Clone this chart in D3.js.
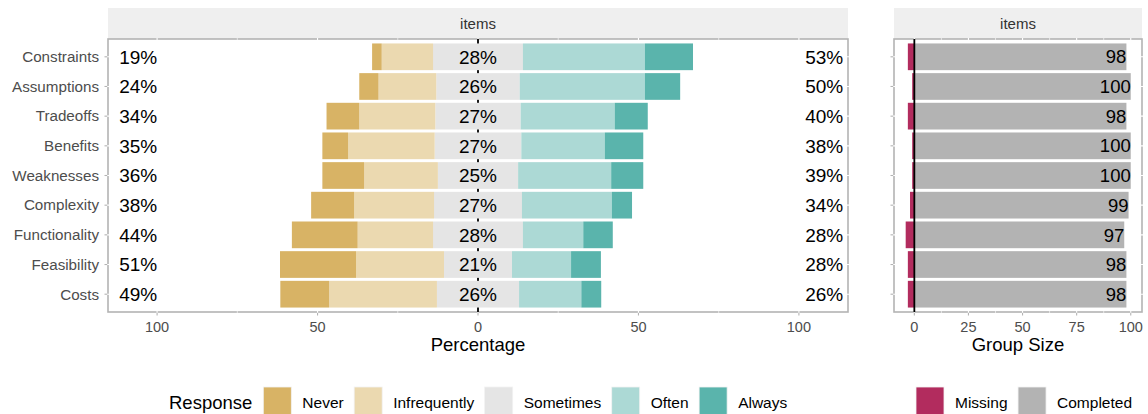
<!DOCTYPE html>
<html>
<head>
<meta charset="utf-8">
<script src="https://cdn.jsdelivr.net/npm/d3@7/dist/d3.min.js"></script>
<style>
  html, body { margin: 0; padding: 0; background: #fff; }
  svg { display: block; font-family: "Liberation Sans", Arial, Helvetica, sans-serif; }
</style>
</head>
<body>
<svg id="chart" width="1148" height="414"></svg>
<script>
// ---------- data ----------
const items = ["Constraints","Assumptions","Tradeoffs","Benefits","Weaknesses","Complexity","Functionality","Feasibility","Costs"];
const levels = ["Never","Infrequently","Sometimes","Often","Always"];
const never        = [3,  6,  10.2, 8,  13, 13.4, 20.5, 23.7, 15.2];
const infrequently = [16, 18, 23.7, 27, 23, 24.9, 23.5, 27.4, 33.6];
const sometimes    = [28, 26, 26.6, 27, 25, 27.4, 28,   21.2, 25.6];
const often        = [38, 39, 29.3, 26, 29, 28.0, 18.8, 18.4, 19.4];
const always       = [15, 11, 10.3, 12, 10, 6.3,  9.2,  9.3,  6.2];
const completed = [98, 100, 98, 100, 100, 99, 97, 98, 98];
const missing   = [3, 1, 3, 1, 1, 2, 4, 3, 3];
const pctTicks = [-100, -50, 0, 50, 100];
const pctTickLabels = ["100", "50", "0", "50", "100"];
const sizeTicks = [0, 25, 50, 75, 100];

const colors = {Never:"#d8b365", Infrequently:"#ebd9b0", Sometimes:"#e5e5e5", Often:"#acd9d5", Always:"#5ab4ac"};
const histColors = {Missing:"#b22c5e", Completed:"#b3b3b3"};

// ---------- layout ----------
const svg = d3.select("#chart");
const P = {top: 39, bottom: 312, stripTop: 8};
const L = {x0: 108, x1: 848};
const R = {x0: 894, x1: 1142};
const borderCol = "#b3b3b3";

const x = d3.scaleLinear().domain([-115.3, 115.3]).range([L.x0, L.x1]);
const xr = d3.scaleLinear().domain([-9.4, 105.2]).range([R.x0, R.x1]);
const y = d3.scalePoint().domain(items).range([P.top, P.bottom]).padding(0.6);
const bh = y.step() * 0.9;

// build stacked segments
const segs = [];
items.forEach((it, i) => {
  const v = {Never: never[i], Infrequently: infrequently[i], Sometimes: sometimes[i], Often: often[i], Always: always[i]};
  const h = v.Sometimes / 2;
  segs.push({item: it, lvl: "Sometimes", a: -h, b: h});
  segs.push({item: it, lvl: "Infrequently", a: -h - v.Infrequently, b: -h});
  segs.push({item: it, lvl: "Never", a: -h - v.Infrequently - v.Never, b: -h - v.Infrequently});
  segs.push({item: it, lvl: "Often", a: h, b: h + v.Often});
  segs.push({item: it, lvl: "Always", a: h + v.Often, b: h + v.Often + v.Always});
});

function strip(x0, x1) {
  svg.append("rect").attr("x", x0).attr("y", P.stripTop).attr("width", x1 - x0).attr("height", P.top - P.stripTop)
    .attr("fill", "#efefef");
  svg.append("text").attr("x", (x0 + x1) / 2).attr("y", (P.stripTop + P.top) / 2).attr("dy", "0.35em")
    .attr("text-anchor", "middle").attr("font-size", 15).attr("fill", "#333").text("items");
}
function panelFrame(x0, x1, scale, majors, minors) {
  svg.append("rect").attr("x", x0).attr("y", P.top).attr("width", x1 - x0).attr("height", P.bottom - P.top)
    .attr("fill", "none").attr("stroke", borderCol).attr("stroke-width", 1.6);
  const g = svg.append("g");
  // white grid lines crossing the border (as in reference), drawn beneath the bars
  minors.forEach(t => {
    g.append("line").attr("x1", scale(t)).attr("x2", scale(t)).attr("y1", P.top - 1).attr("y2", P.bottom + 1)
      .attr("stroke", "#fff").attr("stroke-width", 0.6);
  });
  majors.forEach(t => {
    g.append("line").attr("x1", scale(t)).attr("x2", scale(t)).attr("y1", P.top - 1).attr("y2", P.bottom + 1)
      .attr("stroke", "#fff").attr("stroke-width", 1.1);
  });
  items.forEach(it => {
    g.append("line").attr("x1", x0 - 1).attr("x2", x1 + 1).attr("y1", y(it)).attr("y2", y(it))
      .attr("stroke", "#fff").attr("stroke-width", 1.1);
  });
  // ticks
  items.forEach(it => {
    g.append("line").attr("x1", x0 - 3.5).attr("x2", x0 - 0.8).attr("y1", y(it)).attr("y2", y(it))
      .attr("stroke", borderCol).attr("stroke-width", 1.1);
  });
  majors.forEach(t => {
    g.append("line").attr("x1", scale(t)).attr("x2", scale(t)).attr("y1", P.bottom + 0.8).attr("y2", P.bottom + 3.5)
      .attr("stroke", borderCol).attr("stroke-width", 1.1);
  });
}

// ---------- left panel ----------
strip(L.x0, L.x1);
panelFrame(L.x0, L.x1, x, pctTicks, [-75, -25, 25, 75]);
// zero line behind bars
svg.append("line").attr("x1", x(0)).attr("x2", x(0)).attr("y1", P.top).attr("y2", P.bottom)
  .attr("stroke", "#000").attr("stroke-width", 1.8);

svg.append("g").selectAll("rect").data(segs).join("rect")
  .attr("x", d => x(d.a)).attr("width", d => x(d.b) - x(d.a))
  .attr("y", d => y(d.item) - bh / 2).attr("height", bh)
  .attr("fill", d => colors[d.lvl]);

// percentage labels
const fmt = v => Math.round(v) + "%";
const lbl = svg.append("g").attr("font-size", 19).attr("fill", "#000");
items.forEach((it, i) => {
  lbl.append("text").attr("x", x(-111.8)).attr("y", y(it)).attr("dy", "0.36em").attr("text-anchor", "start")
    .text(fmt(never[i] + infrequently[i]));
  lbl.append("text").attr("x", x(0)).attr("y", y(it)).attr("dy", "0.36em").attr("text-anchor", "middle")
    .text(fmt(sometimes[i]));
  lbl.append("text").attr("x", x(113.8)).attr("y", y(it)).attr("dy", "0.36em").attr("text-anchor", "end")
    .text(fmt(often[i] + always[i]));
});

// y axis labels
const yl = svg.append("g").attr("font-size", 15.2).attr("fill", "#4d4d4d");
items.forEach(it => {
  yl.append("text").attr("x", L.x0 - 9).attr("y", y(it)).attr("dy", "0.35em").attr("text-anchor", "end").text(it);
});

// x axis labels
const xl = svg.append("g").attr("font-size", 14.5).attr("fill", "#4d4d4d");
pctTicks.forEach((t, i) => {
  xl.append("text").attr("x", x(t)).attr("y", 332).attr("text-anchor", "middle").text(pctTickLabels[i]);
});
svg.append("text").attr("x", x(0)).attr("y", 351).attr("text-anchor", "middle").attr("font-size", 18.5)
  .attr("fill", "#000").text("Percentage");

// ---------- right panel ----------
strip(R.x0, R.x1);
panelFrame(R.x0, R.x1, xr, sizeTicks, [12.5, 37.5, 62.5, 87.5]);
const hist = [];
items.forEach((it, i) => {
  hist.push({item: it, k: "Missing", a: -missing[i], b: 0});
  hist.push({item: it, k: "Completed", a: 0, b: completed[i]});
});
svg.append("g").selectAll("rect").data(hist).join("rect")
  .attr("x", d => xr(d.a)).attr("width", d => xr(d.b) - xr(d.a))
  .attr("y", d => y(d.item) - bh / 2).attr("height", bh)
  .attr("fill", d => histColors[d.k]);

svg.append("line").attr("x1", xr(0)).attr("x2", xr(0)).attr("y1", P.top).attr("y2", P.bottom)
  .attr("stroke", "#000").attr("stroke-width", 1.8);

const gl = svg.append("g").attr("font-size", 18.5).attr("fill", "#000");
items.forEach((it, i) => {
  gl.append("text").attr("x", xr(completed[i])).attr("y", y(it)).attr("dy", "0.36em").attr("text-anchor", "end")
    .text(completed[i]);
});
const xrl = svg.append("g").attr("font-size", 14.5).attr("fill", "#4d4d4d");
sizeTicks.forEach(t => {
  xrl.append("text").attr("x", xr(t)).attr("y", 332).attr("text-anchor", "middle").text(t);
});
svg.append("text").attr("x", (R.x0 + R.x1) / 2).attr("y", 351).attr("text-anchor", "middle").attr("font-size", 18.5)
  .attr("fill", "#000").text("Group Size");

// ---------- legends ----------
function legend(startX, title, keys, cols) {
  const g = svg.append("g");
  let cx = startX;
  const keyY = 387, keyS = 28, midY = 402;
  if (title) {
    const t = g.append("text").attr("x", cx).attr("y", midY).attr("dy", "0.36em").attr("font-size", 18.5)
      .attr("fill", "#000").text(title);
    cx += t.node().getComputedTextLength() + 11;
  }
  keys.forEach(k => {
    g.append("rect").attr("x", cx).attr("y", keyY).attr("width", keyS).attr("height", keyS)
      .attr("fill", cols[k]).attr("stroke", "#f2f2f2").attr("stroke-width", 0.8);
    cx += keyS + 11;
    const t = g.append("text").attr("x", cx).attr("y", midY).attr("dy", "0.36em").attr("font-size", 15.5)
      .attr("fill", "#000").text(k);
    cx += t.node().getComputedTextLength() + 10.5;
  });
}
legend(169, "Response", levels, colors);
legend(916, null, ["Missing", "Completed"], histColors);
</script>
</body>
</html>
